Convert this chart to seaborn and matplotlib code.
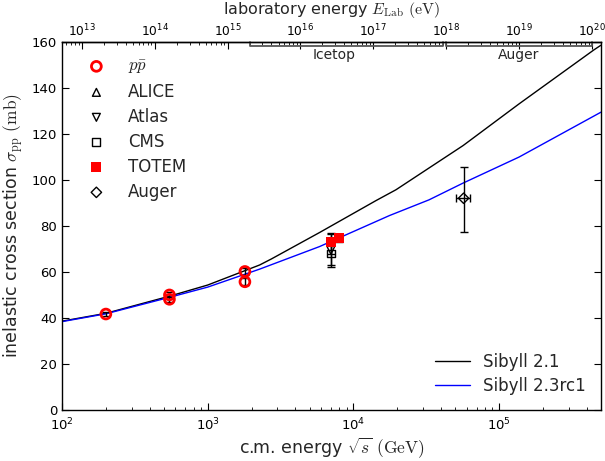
import numpy as np
import pandas as pd
import matplotlib
matplotlib.use('Agg')
import matplotlib.pyplot as plt
import seaborn as sns

sns.set_theme(style="ticks")
plt.rcParams['font.family'] = ['DejaVu Sans']
plt.rcParams['mathtext.fontset'] = 'cm'
plt.rcParams.update({'xtick.direction': 'in', 'ytick.direction': 'in',
                     'axes.edgecolor': 'black', 'axes.linewidth': 1.0,
                     'xtick.color': 'black', 'ytick.color': 'black'})

M_P = 0.938  # GeV

# model curves: sqrt(s) in GeV, sigma_inel in mb
sib21_e = [100, 200, 550, 1000, 2270, 2730, 5850, 14300, 19600, 56600, 137000, 448000, 500000]
sib21_sig = [38.6, 42.0, 49.5, 54.3, 63.0, 65.6, 77.1, 91.0, 95.7, 114.9, 133.0, 156.5, 158.5]
sib23_e = [100, 200, 550, 1000, 2270, 5850, 17700, 33000, 56600, 137000, 500000]
sib23_sig = [38.4, 41.8, 49.0, 53.4, 61.2, 71.0, 84.5, 91.3, 98.6, 109.9, 129.4]

# data
ppbar_e = [200, 546, 546, 1800, 1800]
ppbar_sig = [41.7, 50.0, 48.1, 60.2, 55.7]
ppbar_err = [0.8, 1.1, 1.0, 1.5, 1.5]

alice_e, alice_sig, alice_lo, alice_hi = [7000], [73.2], [5.3], [3.3]
atlas_e, atlas_sig, atlas_err = [7000], [69.4], [7.3]
cms_e, cms_sig, cms_err = [7000], [68.0], [5.1]
totem_e, totem_sig, totem_err = [7000, 8000], [73.15, 74.7], [1.3, 1.7]
auger_e, auger_sig, auger_lo, auger_hi, auger_xerr = [57000], [92.0], [14.6], [13.5], [6500]

# experiment ranges in lab energy (eV)
icetop_range = [2e15, 9e17]
auger_range = [1e18, 1e20]
elab_ticks = [1e13, 1e14, 1e15, 1e16, 1e17, 1e18, 1e19, 1e20]


def to_elab(sqs):
    sqs = np.asarray(sqs, dtype=float)
    return sqs ** 2 / (2 * M_P) * 1e9


def to_sqrts(elab):
    elab = np.clip(np.asarray(elab, dtype=float), 1e-30, None)
    return np.sqrt(2 * M_P * elab / 1e9)


fig = plt.figure(figsize=(6.05, 4.61), dpi=100)
ax = fig.add_axes([0.1025, 0.1106, 0.8909, 0.7989])
ax.set_xscale('log')

# models
sns.lineplot(x=sib21_e, y=sib21_sig, color='black', lw=1.0, label='Sibyll 2.1', ax=ax)
sns.lineplot(x=sib23_e, y=sib23_sig, color='blue', lw=1.0, label='Sibyll 2.3rc1', ax=ax)

# error bars
eb = dict(fmt='none', ecolor='black', elinewidth=1.0, capsize=3, capthick=1.0, zorder=3)
ax.errorbar(ppbar_e, ppbar_sig, yerr=ppbar_err, **eb)
ax.errorbar(alice_e, alice_sig, yerr=[alice_lo, alice_hi], **eb)
ax.errorbar(atlas_e, atlas_sig, yerr=atlas_err, **eb)
ax.errorbar(cms_e, cms_sig, yerr=cms_err, **eb)
ax.errorbar(totem_e, totem_sig, yerr=totem_err, **eb)
ax.errorbar(auger_e, auger_sig, yerr=[auger_lo, auger_hi], xerr=auger_xerr, **eb)

# markers
sns.scatterplot(x=ppbar_e, y=ppbar_sig, marker='o', s=50, facecolors='none',
                edgecolor='red', linewidth=2, label=r'$p\bar{p}$', ax=ax, zorder=4)
sns.scatterplot(x=alice_e, y=alice_sig, marker='^', s=32, facecolors='none',
                edgecolor='black', linewidth=1, label='ALICE', ax=ax, zorder=4)
sns.scatterplot(x=atlas_e, y=atlas_sig, marker='v', s=32, facecolors='none',
                edgecolor='black', linewidth=1, label='Atlas', ax=ax, zorder=4)
sns.scatterplot(x=cms_e, y=cms_sig, marker='s', s=32, facecolors='none',
                edgecolor='black', linewidth=1, label='CMS', ax=ax, zorder=4)
sns.scatterplot(x=totem_e, y=totem_sig, marker='s', s=50, color='red',
                edgecolor='none', linewidth=0, label='TOTEM', ax=ax, zorder=5)
sns.scatterplot(x=auger_e, y=auger_sig, marker='D', s=28, facecolors='none',
                edgecolor='black', linewidth=1, label='Auger', ax=ax, zorder=4)

ax.set_xlim(100, 5e5)
ax.set_ylim(0, 160)
ax.set_yticks(np.arange(0, 161, 20))
ax.set_xlabel(r'c.m. energy $\sqrt{s}$ $(\mathrm{GeV})$', fontsize=12.5, labelpad=2)
ax.set_ylabel(r'inelastic cross section $\sigma_\mathrm{pp}$ $(\mathrm{mb})$', fontsize=12.5)
ax.tick_params(which='both', direction='in', top=False, right=True, labelsize=9.5)
ax.tick_params(which='major', length=5, width=0.8)
ax.tick_params(which='minor', length=2.5, width=0.6)
ax.tick_params(axis='x', pad=4.5)

# lab energy axis on top
sec = ax.secondary_xaxis('top', functions=(to_elab, to_sqrts))
sec.set_xticks(elab_ticks)
sec.tick_params(which='both', direction='in', labelsize=8.8, pad=1.5)
sec.tick_params(which='major', length=5, width=0.8)
sec.tick_params(which='minor', length=2.5, width=0.6)
fig.text(0.548, 0.999, r'laboratory energy $E_\mathrm{Lab}$ $(\mathrm{eV})$',
         ha='center', va='top', fontsize=11.5)

# experiment range brackets
tr = ax.get_xaxis_transform()
for rng, name, shift in [(icetop_range, 'Icetop', 0.83), (auger_range, 'Auger', 1.0)]:
    x0, x1 = to_sqrts(rng)
    ax.plot([x0, x0, x1, x1], [1.0, 0.989, 0.989, 1.0], color='#555555', lw=1.3,
            transform=tr, clip_on=False, zorder=2)
    ax.text(np.sqrt(x0 * x1) * shift, 0.963, name, transform=tr, ha='center',
            va='center', fontsize=10)

# legends
handles, labels = ax.get_legend_handles_labels()
line_h = [h for h, l in zip(handles, labels) if l.startswith('Sibyll')]
line_l = [l for l in labels if l.startswith('Sibyll')]
pt_h = [h for h, l in zip(handles, labels) if not l.startswith('Sibyll')]
pt_l = [l for l in labels if not l.startswith('Sibyll')]
leg1 = ax.legend(pt_h, pt_l, loc='upper left', frameon=False, fontsize=12,
                 scatterpoints=1, handlelength=2.0, handletextpad=0.9,
                 labelspacing=0.42, borderaxespad=0.5, bbox_to_anchor=(0.005, 1.0))
ax.add_artist(leg1)
ax.legend(line_h, line_l, loc='lower right', frameon=False, fontsize=12,
          handlelength=2.1, handletextpad=0.8, labelspacing=0.35)

plt.savefig('out.png', dpi=100)
